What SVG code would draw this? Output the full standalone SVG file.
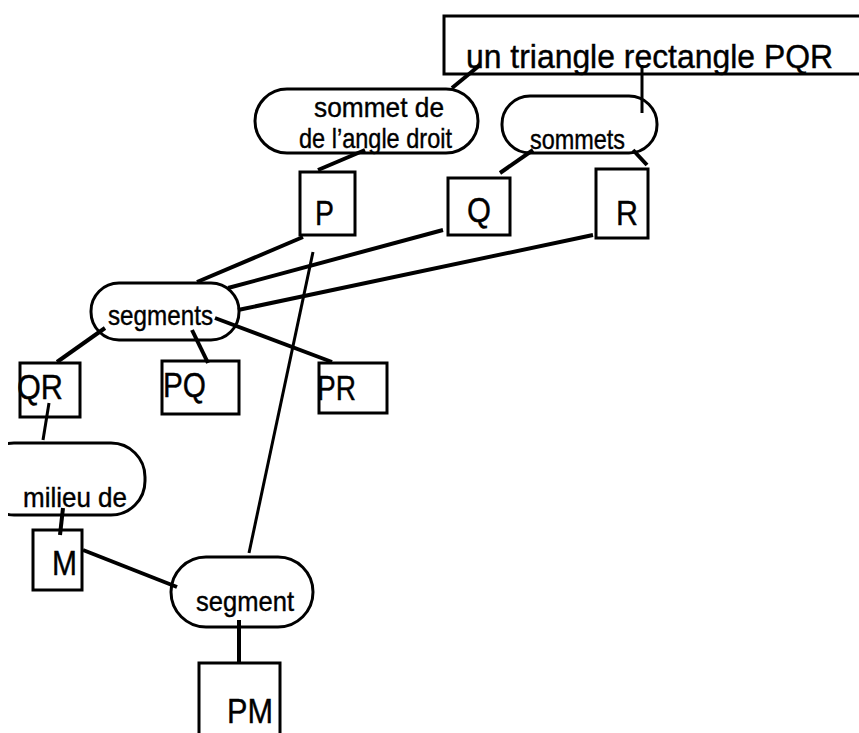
<svg xmlns="http://www.w3.org/2000/svg" width="859" height="733" viewBox="0 0 859 733">
<style>
.box{fill:none;stroke:#000;stroke-width:3}
.pill{fill:none;stroke:#000;stroke-width:3}
.c{stroke:#000;stroke-width:4;stroke-linecap:butt;fill:none}
.t{font-family:"Liberation Sans",Arial,sans-serif;fill:#000;stroke:#000;stroke-width:0.4}
.lbl{font-size:28px}
.big{font-size:35px}
</style>
<defs>
<clipPath id="clipL"><rect x="8" y="0" width="851" height="733"/></clipPath>
</defs>
<rect width="859" height="733" fill="#fff"/>
<g id="connectors">
<line class="c" x1="480" y1="65" x2="452" y2="88"/>
<line class="c" x1="642" y1="65" x2="642" y2="113" style="stroke-width:3"/>
<line class="c" x1="365" y1="150" x2="318" y2="170"/>
<line class="c" x1="533" y1="150" x2="500" y2="173"/>
<line class="c" x1="633" y1="150" x2="647" y2="165"/>
<line class="c" x1="303" y1="237" x2="197" y2="282"/>
<line class="c" x1="443" y1="230" x2="228" y2="288"/>
<line class="c" x1="593" y1="235" x2="238" y2="310"/>
<line class="c" x1="105" y1="328" x2="57" y2="362"/>
<line class="c" x1="192" y1="330" x2="208" y2="363"/>
<line class="c" x1="215" y1="318" x2="332" y2="362"/>
<line class="c" x1="313" y1="252" x2="249" y2="553" style="stroke-width:3"/>
<line class="c" x1="49" y1="403" x2="43" y2="440" style="stroke-width:3"/>
<line class="c" x1="63" y1="508" x2="60" y2="535"/>
<line class="c" x1="83" y1="550" x2="177" y2="587"/>
<line class="c" x1="239" y1="620" x2="239" y2="663"/>
</g>
<g id="triangle">
<rect class="box" x="444" y="16" width="430" height="58"/>
<text class="t" x="466" y="68" font-size="33" textLength="367" lengthAdjust="spacingAndGlyphs">un triangle rectangle PQR</text>
</g>
<g id="sommet-droit">
<rect class="pill" x="255" y="89" width="223" height="64" rx="32" ry="32"/>
<text class="t lbl" x="314" y="117" textLength="130" lengthAdjust="spacingAndGlyphs">sommet de</text>
<text class="t lbl" x="299" y="148" textLength="153" lengthAdjust="spacingAndGlyphs">de l’angle droit</text>
</g>
<g id="sommets">
<rect class="pill" x="502" y="96" width="155" height="57" rx="28" ry="28"/>
<text class="t lbl" x="530" y="149" textLength="95" lengthAdjust="spacingAndGlyphs">sommets</text>
</g>
<g id="P">
<rect class="box" x="300" y="172" width="55" height="63"/>
<text class="t big" x="315" y="225" textLength="19" lengthAdjust="spacingAndGlyphs">P</text>
</g>
<g id="Q">
<rect class="box" x="448" y="178" width="62" height="57"/>
<text class="t big" x="467" y="222" textLength="24" lengthAdjust="spacingAndGlyphs">Q</text>
</g>
<g id="R">
<rect class="box" x="596" y="169" width="52" height="69"/>
<text class="t big" x="616" y="225" textLength="22" lengthAdjust="spacingAndGlyphs">R</text>
</g>
<g id="segments">
<rect class="pill" x="91" y="283" width="148" height="57" rx="28" ry="28"/>
<text class="t lbl" x="108" y="325" textLength="105" lengthAdjust="spacingAndGlyphs">segments</text>
</g>
<g id="QR">
<rect class="box" x="20" y="363" width="60" height="54"/>
<text class="t big" x="17" y="399" textLength="46" lengthAdjust="spacingAndGlyphs">QR</text>
</g>
<g id="PQ">
<rect class="box" x="162" y="361" width="77" height="53"/>
<text class="t big" x="163" y="397" textLength="43" lengthAdjust="spacingAndGlyphs">PQ</text>
</g>
<g id="PR">
<rect class="box" x="319" y="363" width="68" height="50"/>
<text class="t big" x="317" y="400" textLength="39" lengthAdjust="spacingAndGlyphs">PR</text>
</g>
<g id="milieu">
<rect class="pill" x="-20" y="443" width="165" height="72" rx="34" ry="34" clip-path="url(#clipL)"/>
<text class="t lbl" x="23" y="507" textLength="104" lengthAdjust="spacingAndGlyphs">milieu de</text>
</g>
<g id="M">
<rect class="box" x="33" y="530" width="49" height="60"/>
<text class="t big" x="52" y="575" textLength="25" lengthAdjust="spacingAndGlyphs">M</text>
</g>
<g id="segment">
<rect class="pill" x="171" y="557" width="142" height="70" rx="35" ry="35"/>
<text class="t lbl" x="196" y="611" textLength="98" lengthAdjust="spacingAndGlyphs">segment</text>
</g>
<g id="PM">
<rect class="box" x="199" y="663" width="81" height="90"/>
<text class="t big" x="227" y="723" textLength="46" lengthAdjust="spacingAndGlyphs">PM</text>
</g>
</svg>
